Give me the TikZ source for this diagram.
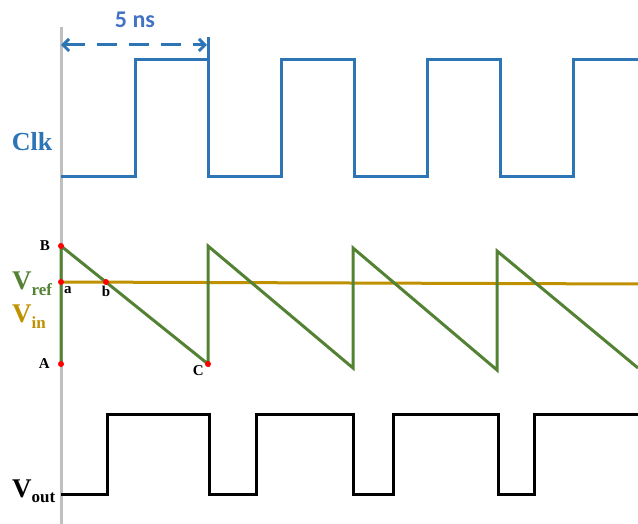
\documentclass[tikz,border=0pt]{standalone}
\usepackage{fontspec}
\setmainfont{Liberation Serif}
\newfontfamily\calibri{Carlito}
\usetikzlibrary{arrows.meta, positioning}
\definecolor{mClk}{HTML}{2E75B6}
\definecolor{mRamp}{HTML}{548235}
\definecolor{mRef}{HTML}{BF9000}
\definecolor{mAxis}{HTML}{BFBFBF}
\definecolor{mText}{HTML}{4472C4}
\begin{document}
\begin{tikzpicture}[x=1pt, y=-1pt,
      wave/.style={line width=3pt, line join=miter},
      dot/.style={circle, fill=red, inner sep=0pt, minimum size=6pt},
      pt/.style={font=\fontsize{15}{15}\selectfont\bfseries, inner sep=1pt},
      sig/.style={font=\fontsize{27}{27}\selectfont\bfseries, inner sep=0pt}]
    \useasboundingbox (0,0) rectangle (638,524);
    \draw[mAxis, line width=3pt] (61,27) -- (61,524);
    % clock
    \draw[wave, mClk] (61,177) \foreach \r in {135,281,427} {
        -- (\r,177) -- (\r,60) -- (\r+73,60) -- (\r+73,177)} -- (573,177) -- (573,60) -- (638,60);
    \draw[wave, mClk] (208,37) -- (208,60);
    \coordinate (t0) at (61,45);
    \coordinate (t1) at (207,45);
    \draw[mClk, line width=3pt, dash pattern=on 20pt off 12pt,
        {Straight Barb[length=6pt, width=12pt]}-{Straight Barb[length=6pt, width=12pt]}] (t0) -- (t1);
    \node[font=\calibri\fontsize{24}{24}\selectfont\bfseries, text=mText] (period) at (135,20) {5 ns};
    \node[sig, mClk, font=\fontsize{26}{26}\selectfont\bfseries] (clk) at (32,142) {Clk};
    % ramp and reference
    \coordinate (B) at (61,246);
    \coordinate (a) at (61,282);
    \coordinate (b) at (106,282);
    \coordinate (A) at (61,364);
    \coordinate (C) at (208,364);
    \draw[wave, mRef] (a) -- (638,284);
    \draw[wave, mRamp] (A) -- (B) -- (C) -- (208,246) -- (353,368) -- (353,248)
        -- (497,370) -- (497,251) -- (638,368);
    \foreach \p in {A,B,C,a,b} \node[dot] at (\p) {};
    \node[pt, left=10pt of B] {B};
    \node[pt, left=10pt of A] {A};
    \node[pt, below left=0pt and 3pt of C] {C};
    \node[pt, below right=3pt and 2pt of a] {a};
    \node[pt, below=3pt of b] {b};
    \node[sig, mRamp, anchor=base west] (vref) at (12,289) {V\raisebox{-6pt}{\fontsize{17}{17}\selectfont ref}};
    \node[sig, mRef, anchor=base west] (vin) at (12,322) {V\raisebox{-6pt}{\fontsize{17}{17}\selectfont in}};
    % output
    \draw[wave, black] (61,494) -- (107,494) -- (107,414) -- (209,414) -- (209,494) -- (256,494)
        -- (256,414) -- (353,414) -- (353,494) -- (393,494) -- (393,414) -- (498,414)
        -- (498,494) -- (534,494) -- (534,414) -- (638,414);
    \node[sig, anchor=base west] (vout) at (12,497) {V\raisebox{-5pt}{\fontsize{17}{17}\selectfont out}};
\end{tikzpicture}
\end{document}
